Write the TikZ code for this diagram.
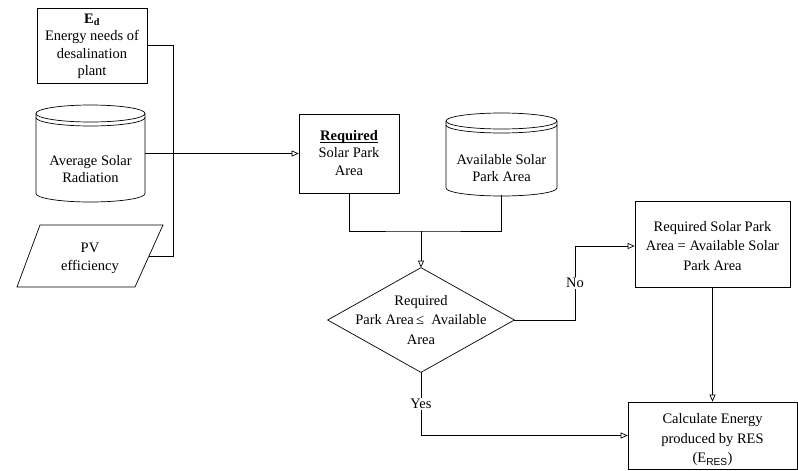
\documentclass[tikz,border=0pt]{standalone}
\usepackage{fontspec}
\setmainfont{Liberation Serif}
\setsansfont{Liberation Sans}
\usetikzlibrary{arrows.meta,calc}
\begin{document}
\begin{tikzpicture}[x=1pt,y=-1pt,line width=0.7pt,
  txt/.style={align=center,font=\fontsize{14.5}{17.5}\selectfont,inner sep=0pt},
  wide/.style={align=center,font=\fontsize{14.5}{19.5}\selectfont,inner sep=0pt},
  shapebox/.style={draw,rectangle,inner sep=0pt},
  ghost/.style={rectangle,inner sep=0pt},
  arr/.style={-{Triangle[open,length=7pt,width=6pt]}},
  lbl/.style={font=\fontsize{14.5}{17.5}\selectfont,fill=white,inner sep=1.5pt}]
\useasboundingbox[fill=white] (0,0) rectangle (798,471);

% geometry nodes
\node[shapebox,minimum width=110pt,minimum height=75pt] (ed) at (92,45.5) {};
\node[ghost,minimum width=109pt,minimum height=97pt] (asr) at (90.5,153.5) {};
\node[ghost,minimum width=146pt,minimum height=62pt] (pv) at (90,256) {};
\node[shapebox,minimum width=100pt,minimum height=79pt] (req) at (349,153.5) {};
\node[ghost,minimum width=111pt,minimum height=82pt] (avail) at (501.5,154) {};
\node[ghost,minimum width=186pt,minimum height=104pt] (dec) at (421,320) {};
\node[shapebox,minimum width=155pt,minimum height=86pt] (ra) at (712.5,244) {};
\node[shapebox,minimum width=169pt,minimum height=67pt] (calc) at (712.5,435.5) {};

% texts
\node[txt] (edt) at (92,46.5)
  {\textbf{E\textsubscript{d}}\\Energy needs of\\desalination\\plant};
\node[txt] (asrt) at (90.5,169) {Average Solar\\Radiation};
\node[txt] (pvt) at (90,258.5) {PV\\efficiency};
\node[txt] (reqt) at (349,158) {\textbf{\underline{\smash{Required}}}\\Solar Park\\Area};
\node[txt] (availt) at (501.5,168) {Available Solar\\Park Area};
\node[wide] (dect) at (421,320) {Required\\Park Area\,≤\ \ Available\\Area};
\node[wide] (rat) at (712.5,246) {Required Solar Park\\Area = Available Solar\\Park Area};
\node[wide] (calct) at (712.5,440) {Calculate Energy\\produced by RES\\(E\textsubscript{\sffamily RES})};

% cylinder: Average Solar Radiation (x 36..145, y 105..202)
\draw (90.5,113.5) ellipse [x radius=54.5pt, y radius=8.5pt];
\draw (36,117.5) arc [start angle=180, end angle=360, x radius=54.5pt, y radius=8.5pt];
\draw (36,113.5) -- (36,193.5) arc [start angle=180, end angle=360, x radius=54.5pt, y radius=8.5pt] -- (145,113.5);

% cylinder: Available Solar Park Area (x 446..557, y 113..196)
\draw (501.5,121) ellipse [x radius=55.5pt, y radius=8pt];
\draw (446,125) arc [start angle=180, end angle=360, x radius=55.5pt, y radius=8pt];
\draw (446,121) -- (446,188) arc [start angle=180, end angle=360, x radius=55.5pt, y radius=8pt] -- (557,121);

% parallelogram: PV efficiency
\draw (40,225) -- (163,225) -- (135,287) -- (17,287) -- cycle;

% diamond
\draw (dec.north) -- (dec.east) -- (dec.south) -- (dec.west) -- cycle;

% helper coordinates
\coordinate (jb) at (173,256);
\coordinate (pvr) at (149,256);
\coordinate (m) at (421,231);
\coordinate (nj) at (575,246);

% connectors
\draw (ed.east) -| (jb) -- (pvr);
\draw[arr] (asr.east) -- (req.west);
\draw (req.south) |- (m) -| (avail.south);
\draw[arr] (m) -- (dec.north);
\draw[arr] (dec.east) -| node[lbl,pos=0.75] {No} (nj) -- (ra.west |- nj);
\draw[arr] (ra.south) -- (calc.north);
\draw[arr] (dec.south) |- node[lbl,pos=0.25] {Yes} (calc.west);
\end{tikzpicture}
\end{document}
